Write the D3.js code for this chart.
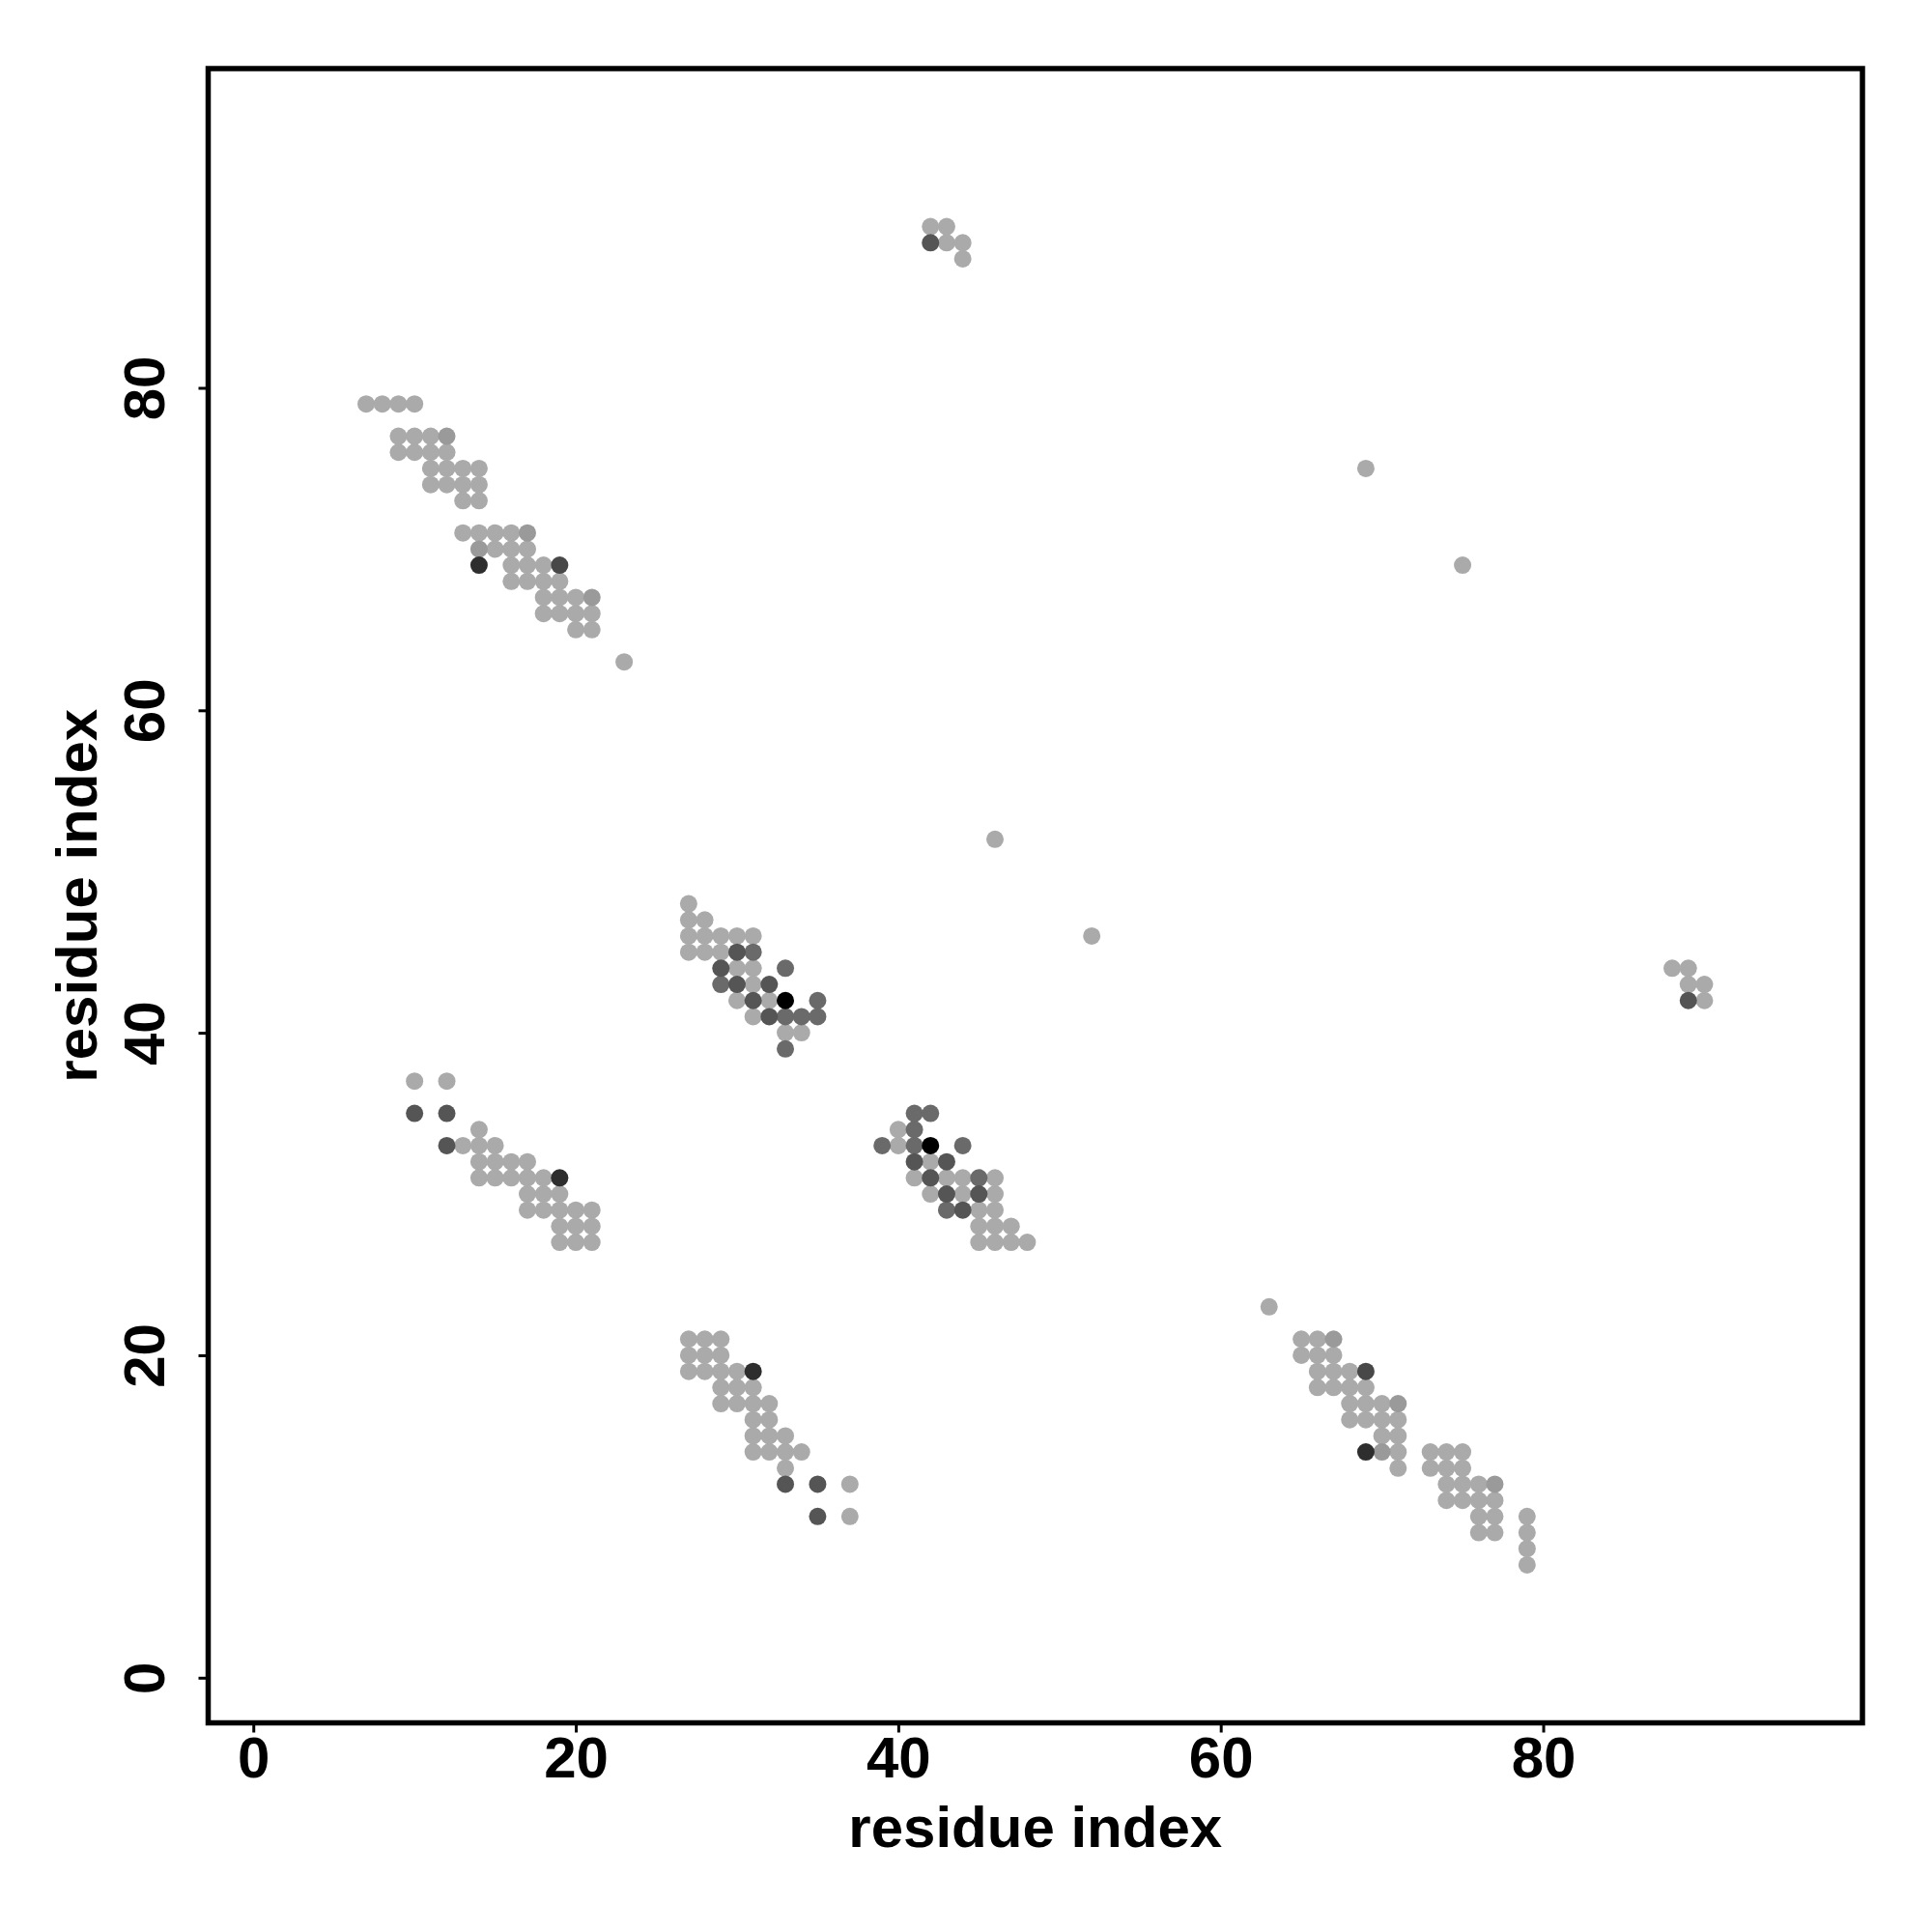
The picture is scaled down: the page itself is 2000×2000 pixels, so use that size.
<!DOCTYPE html>
<html>
<head>
<meta charset="utf-8">
<script src="https://cdn.jsdelivr.net/npm/d3@7"></script>
<style>
  html, body { margin: 0; padding: 0; background: #ffffff; }
  svg { display: block; }
  text { font-family: "Liberation Sans", Arial, Helvetica, sans-serif; font-weight: bold; }
</style>
</head>
<body>
<svg id="chart" width="2000" height="2000"></svg>
<script>
// ---- data: contacts as [i, j, level] (level = shade class, 0 = lightest) ----
const clusterA = [ // upper-left band (i 7-23, j 63-79)
  [7,79,0],[8,79,0],[9,79,0],[10,79,0],
  [9,77,0],[10,77,0],[11,77,0],[12,77,1],
  [9,76,0],[10,76,0],[11,76,0],[12,76,0],
  [11,75,0],[12,75,0],[13,75,0],[14,75,0],
  [11,74,0],[12,74,0],[13,74,0],[14,74,0],
  [13,73,0],[14,73,0],
  [13,71,0],[14,71,0],[15,71,0],[16,71,0],[17,71,1],
  [14,70,1],[15,70,0],[16,70,0],[17,70,0],
  [14,69,5],[16,69,0],[17,69,0],[18,69,0],[19,69,4],
  [16,68,0],[17,68,0],[18,68,0],[19,68,0],
  [18,67,0],[19,67,0],[20,67,0],[21,67,1],
  [18,66,0],[19,66,0],[20,66,0],[21,66,0],
  [20,65,0],[21,65,0],
  [23,63,0]
];
const clusterB = [ // lower-right band (i 63-79, j 7-23)
  [79,7,0],[79,8,0],[79,9,0],[79,10,0],
  [77,9,0],[77,10,0],[77,11,0],[77,12,1],
  [76,9,0],[76,10,0],[76,11,0],[76,12,0],
  [75,11,0],[75,12,0],[75,13,0],[75,14,0],
  [74,11,0],[74,12,0],[74,13,0],[74,14,0],
  [73,13,0],[73,14,0],
  [71,13,0],[71,14,0],[71,15,0],[71,16,0],[71,17,1],
  [70,14,1],[70,15,0],[70,16,0],[70,17,0],
  [69,14,5],[69,16,0],[69,17,0],[69,18,0],[69,19,4],
  [68,16,0],[68,17,0],[68,18,0],[68,19,0],
  [67,18,0],[67,19,0],[67,20,0],[67,21,1],
  [66,18,0],[66,19,0],[66,20,0],[66,21,0],
  [65,20,0],[65,21,0],
  [63,23,0]
];
const clusterC = [ // i 27-35, j 39-48
  [27,48,0],
  [27,47,0],[28,47,0],
  [27,46,0],[28,46,0],[29,46,0],[30,46,0],[31,46,0],
  [27,45,0],[28,45,0],[29,45,0],[30,45,3],[31,45,2],
  [29,44,3],[30,44,0],[31,44,0],[33,44,2],
  [29,43,2],[30,43,3],[31,43,0],[32,43,3],
  [30,42,0],[31,42,3],[32,42,0],[33,42,6],[35,42,2],
  [31,41,0],[32,41,3],[33,41,2],[34,41,2],[35,41,2],
  [33,40,0],[34,40,0],
  [33,39,2]
];
const clusterD = [ // i 39-48, j 27-35
  [48,27,0],
  [47,27,0],[47,28,0],
  [46,27,0],[46,28,0],[46,29,0],[46,30,0],[46,31,0],
  [45,27,0],[45,28,0],[45,29,0],[45,30,3],[45,31,2],
  [44,29,3],[44,30,0],[44,31,0],[44,33,2],
  [43,29,2],[43,30,3],[43,31,0],[43,32,3],
  [42,30,0],[42,31,3],[42,32,0],[42,33,6],[42,35,2],
  [41,31,0],[41,32,3],[41,33,2],[41,34,2],[41,35,2],
  [40,33,0],[40,34,0],
  [39,33,2]
];
const clusterE = [ // i 10-21, j 27-37
  [10,37,0],[12,37,0],
  [10,35,3],[12,35,3],
  [14,34,0],
  [12,33,3],[13,33,0],[14,33,0],[15,33,0],
  [14,32,0],[15,32,0],[16,32,0],[17,32,0],
  [14,31,0],[15,31,0],[16,31,0],[17,31,0],[18,31,0],[19,31,5],
  [17,30,0],[18,30,0],[19,30,0],
  [17,29,0],[18,29,0],[19,29,0],[20,29,0],[21,29,0],
  [19,28,0],[20,28,0],[21,28,0],
  [19,27,0],[20,27,0],[21,27,0]
];
const clusterF = [ // i 27-37, j 10-21
  [37,10,0],[37,12,0],
  [35,10,3],[35,12,3],
  [34,14,0],
  [33,12,3],[33,13,0],[33,14,0],[33,15,0],
  [32,14,0],[32,15,0],[32,16,0],[32,17,0],
  [31,14,0],[31,15,0],[31,16,0],[31,17,0],[31,18,0],[31,19,5],
  [30,17,0],[30,18,0],[30,19,0],
  [29,17,0],[29,18,0],[29,19,0],[29,20,0],[29,21,0],
  [28,19,0],[28,20,0],[28,21,0],
  [27,19,0],[27,20,0],[27,21,0]
];
const clusterG = [ // small patches near (43,89) and (89,43)
  [42,90,0],[43,90,0],[42,89,3],[43,89,0],[44,89,0],[44,88,0],
  [88,44,0],[89,44,0],[89,43,0],[90,43,0],[89,42,3],[90,42,0]
];
const singles = [
  [69,75,0],[75,69,0],[46,52,0],[52,46,0]
];
const tickValues = [0, 20, 40, 60, 80];
const axisRange = [1, 96];
const xTitle = "residue index";
const yTitle = "residue index";

// ---- layout ----
const W = 2000, H = 2000;
const plotL = 215.5, plotR = 1928, plotT = 71, plotB = 1783.5;
const pad = (axisRange[1] - axisRange[0]) * 0.04;
const dom = [axisRange[0] - pad, axisRange[1] + pad];

const x = d3.scaleLinear().domain(dom).range([plotL, plotR]);
const y = d3.scaleLinear().domain(dom).range([plotB, plotT]);
const shade = d3.scaleOrdinal()
  .domain([0,1,2,3,4,5,6])
  .range(["#aaaaaa","#9a9a9a","#6a6a6a","#555555","#484848","#2e2e2e","#000000"]);

const svg = d3.select("#chart");
svg.append("rect").attr("width", W).attr("height", H).attr("fill", "#ffffff");

const points = [].concat(clusterA, clusterB, clusterC, clusterD, clusterE, clusterF, clusterG, singles);
// draw lighter first so darker dots sit on top
points.sort((a, b) => a[2] - b[2]);

svg.append("g").selectAll("circle")
  .data(points)
  .join("circle")
  .attr("cx", d => x(d[0]))
  .attr("cy", d => y(d[1]))
  .attr("r", 9)
  .attr("fill", d => shade(d[2]));

// axes
const xAxis = svg.append("g")
  .attr("transform", `translate(0,${plotB})`)
  .call(d3.axisBottom(x).tickValues(tickValues).tickSize(10).tickFormat(d3.format("d")));
xAxis.select(".domain").remove();
xAxis.selectAll(".tick line").attr("stroke", "#000").attr("stroke-width", 3);
xAxis.selectAll(".tick text")
  .attr("y", 56.5).attr("dy", 0)
  .attr("font-size", 60).attr("fill", "#000")
  .style("font-family", '"Liberation Sans", Arial, sans-serif').style("font-weight", "bold");

const yAxis = svg.append("g")
  .attr("transform", `translate(${plotL},0)`)
  .call(d3.axisLeft(y).tickValues(tickValues).tickSize(10).tickFormat(d3.format("d")));
yAxis.select(".domain").remove();
yAxis.selectAll(".tick line").attr("stroke", "#000").attr("stroke-width", 3);
yAxis.selectAll(".tick text")
  .attr("x", 0).attr("y", -45.5).attr("dy", 0)
  .attr("text-anchor", "middle")
  .attr("transform", "rotate(-90)")
  .attr("font-size", 60).attr("fill", "#000")
  .style("font-family", '"Liberation Sans", Arial, sans-serif').style("font-weight", "bold");

// box
svg.append("rect")
  .attr("x", plotL).attr("y", plotT)
  .attr("width", plotR - plotL).attr("height", plotB - plotT)
  .attr("fill", "none").attr("stroke", "#000").attr("stroke-width", 5.5);

// titles
svg.append("text")
  .attr("x", (plotL + plotR) / 2).attr("y", 1912)
  .attr("text-anchor", "middle").attr("font-size", 60).attr("fill", "#000")
  .text(xTitle);
svg.append("text")
  .attr("transform", `translate(100,${(plotT + plotB) / 2}) rotate(-90)`)
  .attr("text-anchor", "middle").attr("font-size", 60).attr("fill", "#000")
  .text(yTitle);
</script>
</body>
</html>
